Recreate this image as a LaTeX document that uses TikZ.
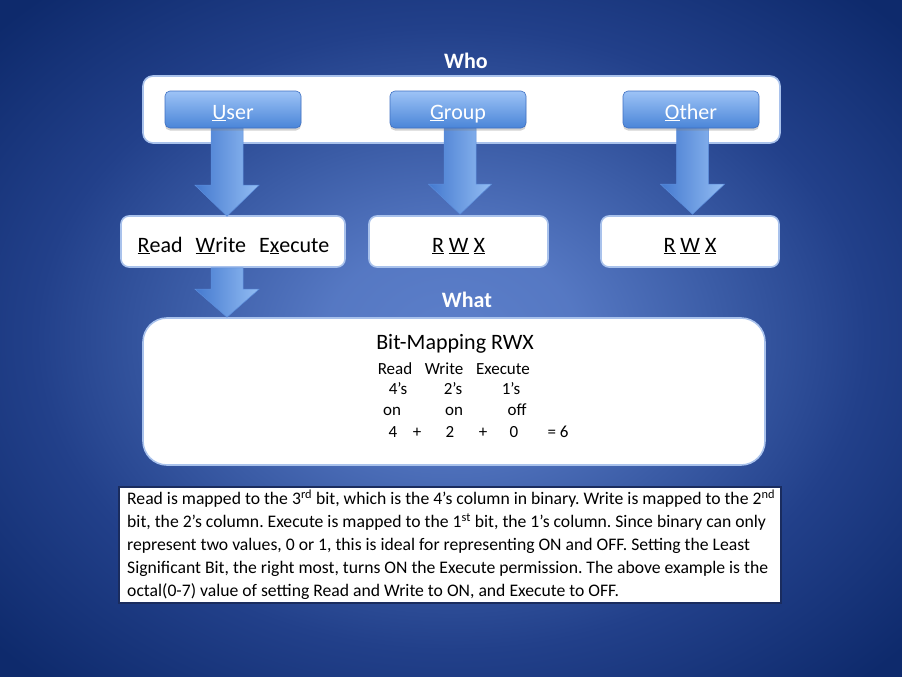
\documentclass[tikz,border=0pt]{standalone}
\usepackage{fontspec}
\setmainfont{Carlito}
\usetikzlibrary{calc,shadows}
\frenchspacing

\definecolor{bgC}{HTML}{5C7FCA}
\definecolor{bgM}{HTML}{3B5CA6}
\definecolor{bgE}{HTML}{22408A}
\definecolor{bgK}{HTML}{0E2A6C}
\definecolor{panelB}{HTML}{A9C2EC}
\definecolor{btnT}{HTML}{9DC3F6}
\definecolor{btnBt}{HTML}{4A85D8}
\definecolor{btnB}{HTML}{3F70C2}
\definecolor{arrL}{HTML}{4479CF}
\definecolor{arrR}{HTML}{93BDF3}
\definecolor{arrB}{HTML}{5B8DDC}
\definecolor{noteB}{HTML}{1A2C5E}

\pgfdeclareradialshading{slidebg}{\pgfpoint{0bp}{0bp}}{%
  color(0bp)=(bgC); color(7bp)=(bgC!80!bgM); color(15bp)=(bgM);
  color(23bp)=(bgE); color(34bp)=(bgK); color(50bp)=(bgK)}

% downward block arrow: start, tip, shaft half width, head half width, head length
\newcommand\blockarrow[5]{%
  \path[blockarr] let \p1=(#1), \p2=(#2) in
    ({\x1-#3pt},\y1) -- ({\x1+#3pt},\y1) -- ({\x1+#3pt},{\y2+#5pt})
    -- ({\x1+#4pt},{\y2+#5pt}) -- (\x1,\y2) -- ({\x1-#4pt},{\y2+#5pt})
    -- ({\x1-#3pt},{\y2+#5pt}) -- cycle;}

\begin{document}
\begin{tikzpicture}[x=1pt,y=-1pt,
  panel/.style={draw=panelB, line width=1.6pt, fill=white, rounded corners=#1},
  panel/.default=9pt,
  btn/.style={draw=btnB, line width=0.6pt, top color=btnT, bottom color=btnBt,
    rounded corners=5pt, minimum width=136pt, minimum height=37pt, inner sep=0pt,
    text height=19pt, text depth=0pt,
    text=white, font=\fontsize{22}{26}\selectfont,
    drop shadow={opacity=0.35, shadow xshift=0pt, shadow yshift=-2.5pt}},
  blockarr/.style={left color=arrL, right color=arrR, draw=arrB, line width=0.5pt},
  heading/.style={text=white, font=\fontsize{22}{26}\selectfont\bfseries, inner sep=0pt},
  boxtext/.style={font=\fontsize{22}{26}\selectfont, inner sep=0pt, anchor=base},
  cell/.style={font=\fontsize{17}{20}\selectfont, inner sep=0pt, anchor=base},
]
% slide background
\shade[shading=slidebg] (0,0) rectangle (902,677);

% who panel
\node[heading] (who) at (466,61) {Who};
\node[panel=10pt, minimum width=637pt, minimum height=67pt] (whobox) at (461.5,109.5) {};

% permission boxes
\node[panel=8pt, minimum width=224pt, minimum height=51pt] (rd) at (233,241.5) {};
\node[panel=8pt, minimum width=179pt, minimum height=51pt] (gr) at (458.5,241.5) {};
\node[panel=8pt, minimum width=178pt, minimum height=51pt] (ot) at (690,241.5) {};
\node[boxtext] (rdt) at (233.5,252) {\underline{R}ead\hspace{13pt}\underline{W}rite\hspace{13pt}E\underline{x}ecute};
\node[boxtext] (grt) at (458.5,252) {\underline{R} \underline{W} \underline{X}};
\node[boxtext] (ott) at (690,252) {\underline{R} \underline{W} \underline{X}};

% what panel
\node[heading] (what) at (467,300) {What};
\node[panel=24pt, minimum width=622pt, minimum height=147pt] (whatbox) at (454,391.5) {};

% block arrows
\coordinate (ua) at ([xshift=-6pt]rd.north |- whobox.south);
\coordinate (ua0) at (ua |- 0,128);
\blockarrow{ua0}{[xshift=-6pt, yshift=-1pt]rd.north}{16}{32}{31}
\coordinate (ga0) at ([xshift=1.5pt]gr.north |- 0,128);
\blockarrow{ga0}{[xshift=1.5pt, yshift=1pt]gr.north}{16}{31.5}{30}
\coordinate (oa0) at ([xshift=2.5pt]ot.north |- 0,128);
\blockarrow{oa0}{[xshift=2.5pt, yshift=1pt]ot.north}{16}{32}{30}
\blockarrow{[xshift=-6pt]rd.south}{[xshift=-6pt]whatbox.north -| ua}{16}{32}{28}

% who buttons
\node[btn] (user) at (233,109.5) {\underline{U}ser};
\node[btn] (group) at (458,109.5) {\underline{G}roup};
\node[btn] (other) at (691,109.5) {\underline{O}ther};

% bit mapping table
\node[font=\fontsize{22}{26}\selectfont, inner sep=0pt] (bm) at (455,344) {Bit-Mapping RWX};
\node[cell] (c11) at (395,374) {Read};
\node[cell] (c12) at (444,374) {Write};
\node[cell] (c13) at (503,374) {Execute};
\node[cell] (c21) at (398,394) {4’s};
\node[cell] (c22) at (453,394) {2’s};
\node[cell] (c23) at (511,394) {1’s};
\node[cell] (c31) at (392,415) {on};
\node[cell] (c32) at (454,415) {on};
\node[cell] (c33) at (517,415) {off};
\node[cell] (c41) at (393,437) {4};
\node[cell] (c42) at (417,437) {+};
\node[cell] (c43) at (450,437) {2};
\node[cell] (c44) at (483,437) {+};
\node[cell] (c45) at (514,437) {0};
\node[cell] (c46) at (558,437) {= 6};

% explanation note
\node[draw=noteB, line width=1.8pt, fill=white, minimum width=662pt, minimum height=116pt] (note) at (450,545) {};
\node[anchor=north west, inner sep=0pt, align=left,
  font=\fontsize{17.65}{23}\selectfont] (notetext) at (127,489.5)
  {Read is mapped to the 3\textsuperscript{rd} bit, which is the 4’s column in binary. Write is mapped to the 2\textsuperscript{nd}\\
   bit, the 2’s column. Execute is mapped to the 1\textsuperscript{st} bit, the 1’s column. Since binary can only\\
   represent two values, 0 or 1, this is ideal for representing ON and OFF. Setting the Least\\
   Significant Bit, the right most, turns ON the Execute permission. The above example is the\\
   octal(0-7) value of setting Read and Write to ON, and Execute to OFF.};
\end{tikzpicture}
\end{document}
